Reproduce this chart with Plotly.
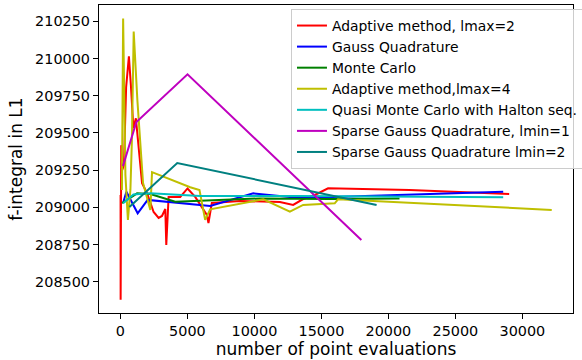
import plotly.graph_objects as go

# Adaptive method, lmax=2
adapt2_n = [10, 15, 60, 134, 260, 424, 632, 781, 967, 1153, 1414, 1614, 1986, 2478, 2850, 3102,
            3348, 3422, 3594, 4464, 5007, 5580, 6450, 6570, 6822, 8928, 11904, 12893, 13638,
            14508, 15498, 21576, 29016]
adapt2_f = [209083, 208379, 209418, 209251, 209284, 209807, 210015, 209820, 209532, 209599,
            209351, 209163, 209096, 208969, 208929, 208942, 208989, 208748, 209070, 209070,
            209127, 209070, 208949, 208895, 209029, 209043, 209036, 209016, 209056, 209083,
            209128, 209117, 209090]

# Gauss Quadrature
gauss_n = [201, 446, 1287, 2031, 6696, 9918, 13392, 28570]
gauss_f = [209031, 209105, 208960, 209050, 209009, 209094, 209063, 209105]

# Monte Carlo
mc_n = [126, 1243, 2232, 4092, 10416, 15624, 20832]
mc_f = [209028, 209094, 209090, 209038, 209060, 209056, 209060]

# Adaptive method, lmax=4
adapt4_n = [112, 201, 372, 558, 744, 856, 990, 1265, 1689, 2232, 2358, 5208, 5900, 6324, 6696,
            10662, 12648, 13638, 15996, 16242, 32193]
adapt4_f = [209117, 210269, 209217, 208916, 209117, 209452, 210182, 209720, 209163, 208983,
            209237, 209135, 209117, 208916, 208987, 209054, 208971, 209016, 209027, 209054,
            208983]

# Quasi Monte Carlo with Halton seq.
qmc_n = [201, 967, 2232, 5952, 13392, 28570]
qmc_f = [209027, 209086, 209094, 209076, 209076, 209068]

# Sparse Gauss Quadrature, lmin=1
sg1_n = [186, 1190, 5007, 17983]
sg1_f = [209277, 209574, 209894, 208781]

# Sparse Gauss Quadrature lmin=2
sg2_n = [670, 4241, 19120]
sg2_f = [209003, 209298, 209016]

series = [
    ("Adaptive method, lmax=2", adapt2_n, adapt2_f, "#ff0000"),
    ("Gauss Quadrature", gauss_n, gauss_f, "#0000ff"),
    ("Monte Carlo", mc_n, mc_f, "#008000"),
    ("Adaptive method,lmax=4", adapt4_n, adapt4_f, "#bfbf00"),
    ("Quasi Monte Carlo with Halton seq.", qmc_n, qmc_f, "#00bfbf"),
    ("Sparse Gauss Quadrature, lmin=1", sg1_n, sg1_f, "#bf00bf"),
    ("Sparse Gauss Quadrature lmin=2", sg2_n, sg2_f, "#008080"),
]

x_ticks = [0, 5000, 10000, 15000, 20000, 25000, 30000]
y_ticks = [208500, 208750, 209000, 209250, 209500, 209750, 210000, 210250]

fig = go.Figure()
for name, xs, ys, col in series:
    fig.add_trace(go.Scatter(x=xs, y=ys, mode="lines", name=name,
                             line=dict(color=col, width=2)))

font = dict(family="DejaVu Sans", size=14, color="#000000")
tickfont = dict(family="DejaVu Sans", size=14.4, color="#000000")
fig.update_layout(
    width=582, height=360,
    margin=dict(l=99, r=9, t=5, b=47, autoexpand=False),
    paper_bgcolor="white", plot_bgcolor="white",
    font=font,
    showlegend=True,
    legend=dict(x=0.405, y=0.987, xanchor="left", yanchor="top",
                bgcolor="rgba(255,255,255,0.8)", bordercolor="#cccccc", borderwidth=1,
                font=dict(family="DejaVu Sans", size=13.9, color="#000000"),
                itemwidth=30, tracegroupgap=0),
    xaxis=dict(range=[-1600, 33780], tickvals=x_ticks, ticktext=[str(v) for v in x_ticks],
               showgrid=False, zeroline=False, showline=True, mirror=True,
               linecolor="black", linewidth=1.2, ticks="outside", ticklen=5,
               tickwidth=1.2, tickcolor="black", tickfont=tickfont,
               title=dict(text="number of point evaluations", standoff=4)),
    yaxis=dict(range=[208290, 210360], tickvals=y_ticks, ticktext=[str(v) for v in y_ticks],
               showgrid=False, zeroline=False, showline=True, mirror=True,
               linecolor="black", linewidth=1.2, ticks="outside", ticklen=5,
               tickwidth=1.2, tickcolor="black", tickfont=tickfont,
               title=dict(text="f-integral in L1", standoff=8)),
)

fig.write_html("out.html", config={"displayModeBar": False},
               post_script="document.body.style.margin='0';document.body.style.overflow='hidden';")
